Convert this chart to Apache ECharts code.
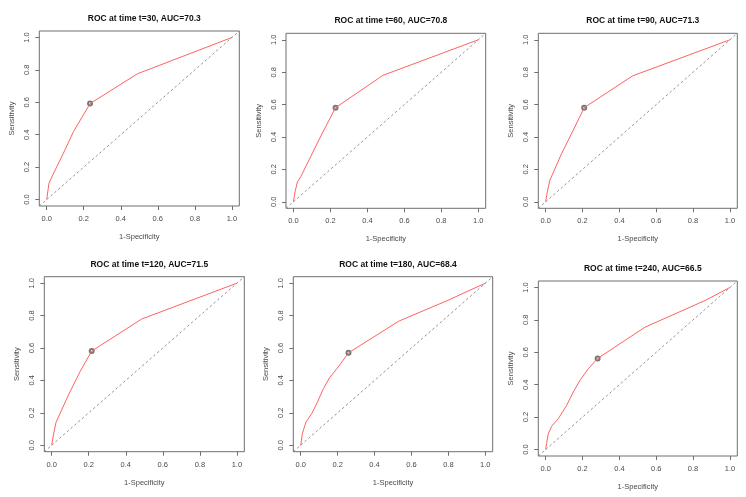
<!DOCTYPE html>
<html>
<head>
<meta charset="utf-8">
<script src="https://cdn.jsdelivr.net/npm/echarts@6/dist/echarts.min.js"></script>
<style>
  html, body { margin: 0; padding: 0; background: #ffffff; }
  #chart { width: 746px; height: 497px; }
</style>
</head>
<body>
<div id="chart"></div>
<script>
// ---- data ----
var times = [30, 60, 90, 120, 180, 240];
var aucs = ['70.3', '70.8', '71.3', '71.5', '68.4', '66.5'];
var tickValues = [0, 0.2, 0.4, 0.6, 0.8, 1.0];

var fpr30  = [0, 0.004, 0.012, 0.032, 0.09, 0.144, 0.198, 0.234, 0.49, 1];
var tpr30  = [0, 0.01, 0.099, 0.150, 0.285, 0.418, 0.522, 0.592, 0.776, 1];
var fpr60  = [0, 0.004, 0.009, 0.022, 0.04, 0.093, 0.156, 0.228, 0.485, 1];
var tpr60  = [0, 0, 0.062, 0.124, 0.155, 0.278, 0.423, 0.581, 0.781, 1];
var fpr90  = [0, 0.009, 0.023, 0.087, 0.150, 0.209, 0.471, 1];
var tpr90  = [0, 0.062, 0.134, 0.299, 0.443, 0.581, 0.777, 1];
var fpr120 = [0, 0.009, 0.023, 0.09, 0.153, 0.216, 0.486, 1];
var tpr120 = [0, 0.062, 0.140, 0.309, 0.454, 0.581, 0.779, 1];
var fpr180 = [0, 0.009, 0.029, 0.060, 0.091, 0.123, 0.156, 0.196, 0.259, 0.53, 0.793, 1];
var tpr180 = [0, 0.072, 0.144, 0.195, 0.267, 0.349, 0.416, 0.472, 0.570, 0.765, 0.892, 1];
var fpr240 = [0, 0.005, 0.014, 0.033, 0.069, 0.114, 0.15, 0.186, 0.231, 0.282, 0.539, 0.864, 1];
var tpr240 = [0, 0.037, 0.098, 0.144, 0.191, 0.273, 0.355, 0.427, 0.498, 0.562, 0.755, 0.919, 1];

var cutFpr = [0.234, 0.228, 0.209, 0.216, 0.259, 0.282];
var cutTpr = [0.592, 0.581, 0.581, 0.581, 0.570, 0.562];

var refLine = [[-0.04, -0.04], [1.04, 1.04]];
var axisMin = -0.04, axisMax = 1.04;

var fprs = [fpr30, fpr60, fpr90, fpr120, fpr180, fpr240];
var tprs = [tpr30, tpr60, tpr90, tpr120, tpr180, tpr240];

// ---- layout (plot boxes in px: left, top, width, height) ----
var boxes = [
  [39.3, 31, 200, 175],
  [286, 33.3, 199.7, 175],
  [538.3, 33.3, 199, 175],
  [44.3, 276.7, 200, 175],
  [293.3, 276.7, 199.4, 175],
  [538.3, 281, 199, 175]
];

var FONT = '"Liberation Sans", Arial, sans-serif';
var grids = [], xAxes = [], yAxes = [], series = [], titles = [];

for (var i = 0; i < 6; i++) {
  var b = boxes[i];
  grids.push({
    left: b[0], top: b[1], width: b[2], height: b[3],
    show: true, borderColor: '#6e6e6e', borderWidth: 1,
    backgroundColor: 'transparent', containLabel: false
  });
  titles.push({
    text: 'ROC at time t=' + times[i] + ', AUC=' + aucs[i],
    left: b[0] + b[2] / 2, textAlign: 'center',
    top: b[1] - 22,
    textStyle: { fontFamily: FONT, fontWeight: 'bold', fontSize: 8.5, color: '#111' }
  });
  xAxes.push({
    type: 'value', gridIndex: i, min: axisMin, max: axisMax, position: 'bottom',
    splitLine: { show: false },
    axisLine: { show: false, onZero: false },
    axisTick: { show: true, inside: false, length: 4, customValues: tickValues,
                lineStyle: { color: '#6e6e6e', width: 1 } },
    axisLabel: { customValues: tickValues, margin: 9, fontSize: 7.5, fontFamily: FONT, color: '#4a4a4a',
                 formatter: function (v) { return v.toFixed(1); } },
    name: '1-Specificity', nameLocation: 'middle', nameGap: 27,
    nameTextStyle: { fontSize: 7.5, fontFamily: FONT, color: '#4a4a4a' }
  });
  yAxes.push({
    type: 'value', gridIndex: i, min: axisMin, max: axisMax, position: 'left',
    splitLine: { show: false },
    axisLine: { show: false, onZero: false },
    axisTick: { show: true, inside: false, length: 4, customValues: tickValues,
                lineStyle: { color: '#6e6e6e', width: 1 } },
    axisLabel: { customValues: tickValues, rotate: 90, margin: 8.5, fontSize: 7.5, fontFamily: FONT, color: '#4a4a4a',
                 formatter: function (v) { return v.toFixed(1); } },
    name: 'Sensitivity', nameLocation: 'middle', nameGap: 23,
    nameTextStyle: { fontSize: 7.5, fontFamily: FONT, color: '#4a4a4a' }
  });
  var pts = fprs[i].map(function (x, k) { return [x, tprs[i][k]]; });
  series.push({
    type: 'line', xAxisIndex: i, yAxisIndex: i, data: refLine,
    showSymbol: false, symbol: 'none', silent: true,
    lineStyle: { color: '#777', width: 0.8, type: [2.5, 2.5] }
  });
  series.push({
    type: 'line', xAxisIndex: i, yAxisIndex: i, data: pts,
    showSymbol: false, symbol: 'none', smooth: false,
    lineStyle: { color: '#ff6262', width: 1 }
  });
  series.push({
    type: 'scatter', xAxisIndex: i, yAxisIndex: i, data: [[cutFpr[i], cutTpr[i]]],
    symbol: 'emptyCircle', symbolSize: 4,
    itemStyle: { color: '#555', borderColor: '#555', borderWidth: 0.7 }
  });
}

var chart = echarts.init(document.getElementById('chart'), null, { renderer: 'canvas' });
chart.setOption({
  backgroundColor: '#ffffff',
  animation: false,
  title: titles,
  grid: grids,
  xAxis: xAxes,
  yAxis: yAxes,
  series: series
});
</script>
</body>
</html>
